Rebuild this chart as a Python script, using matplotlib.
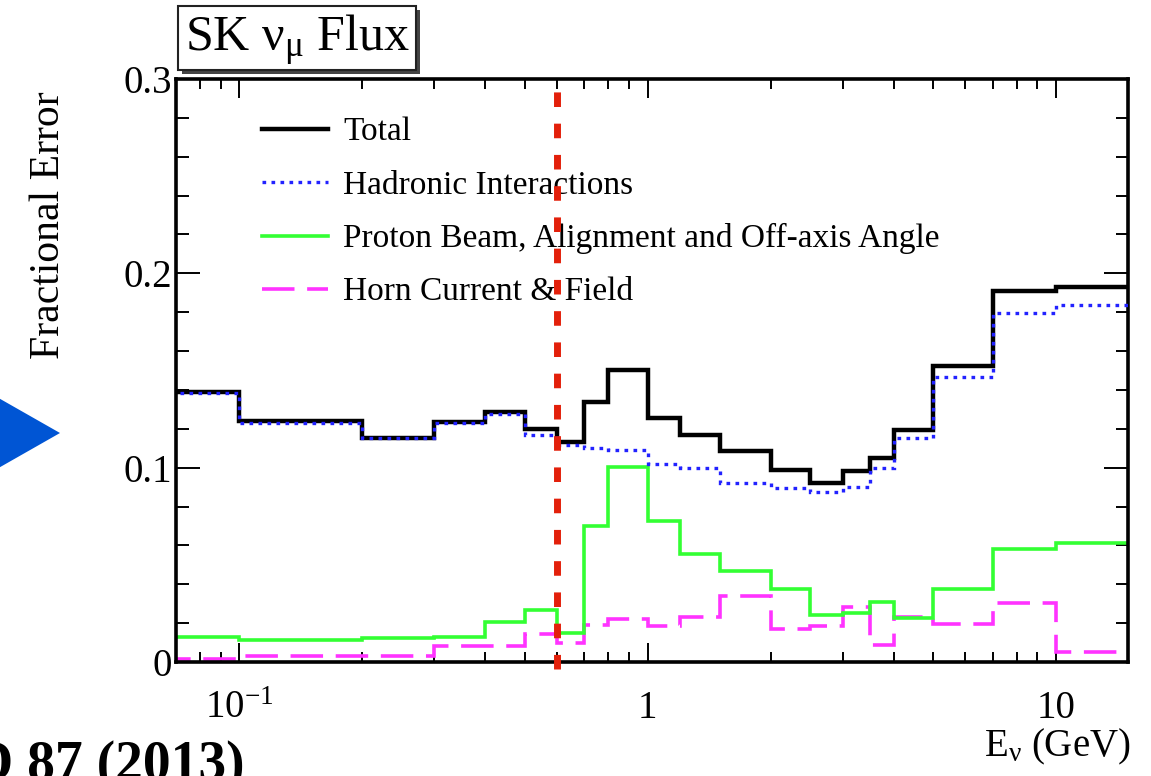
import numpy as np
import matplotlib
matplotlib.use("Agg")
import matplotlib.pyplot as plt
from matplotlib.patches import Rectangle, Polygon
from matplotlib.ticker import FixedLocator, MultipleLocator, NullFormatter

plt.rcParams['font.family'] = ['Liberation Serif', 'DejaVu Serif']
plt.rcParams['mathtext.fontset'] = 'custom'
plt.rcParams['mathtext.rm'] = 'Liberation Serif'
plt.rcParams['mathtext.it'] = 'Liberation Serif'
plt.rcParams['mathtext.bf'] = 'Liberation Serif:bold'

# SK numu flux bins (GeV); first bin really starts at 0, drawn from off-axis
edges = [0.05, 0.1, 0.2, 0.3, 0.4, 0.5, 0.6, 0.7, 0.8, 1.0, 1.2, 1.5,
         2.0, 2.5, 3.0, 3.5, 4.0, 5.0, 7.0, 10.0, 30.0]

total = [0.139, 0.124, 0.1155, 0.1235, 0.1285, 0.120, 0.113, 0.134, 0.1505,
         0.1255, 0.1166, 0.1086, 0.0988, 0.0923, 0.0983, 0.1048, 0.1192,
         0.1523, 0.1909, 0.193]
hadronic = [0.1383, 0.1232, 0.1155, 0.1228, 0.1275, 0.1168, 0.1117, 0.110,
            0.1091, 0.1017, 0.100, 0.0919, 0.0897, 0.0876, 0.0902, 0.100,
            0.1151, 0.1468, 0.1794, 0.1835]
proton = [0.0129, 0.0115, 0.0125, 0.0129, 0.0206, 0.0266, 0.0149, 0.0698,
          0.1005, 0.0726, 0.0554, 0.0468, 0.0377, 0.024, 0.0254, 0.031,
          0.0228, 0.0374, 0.058, 0.061]
horn = [0.0015, 0.0029, 0.0029, 0.008, 0.008, 0.0146, 0.0098, 0.0189, 0.0223,
        0.0185, 0.0233, 0.034, 0.0172, 0.0185, 0.0283, 0.0086, 0.0232,
        0.0194, 0.0305, 0.0051]

labels = ['Total', 'Hadronic Interactions',
          'Proton Beam, Alignment and Off-axis Angle', 'Horn Current & Field']
cut_energy = 0.6

W, H = 1151, 776
def fx(px):
    return px / W
def fy(py):
    return 1 - py / H

fig = plt.figure(figsize=(W / 100, H / 100), dpi=100)
ax = fig.add_axes([fx(176), fy(662), fx(1128) - fx(176), fy(79) - fy(662)])

ax.stairs(horn, edges, color='#ff33ff', lw=2.6, linestyle=(0, (9, 3.5)),
          label=labels[3], zorder=2)
ax.stairs(proton, edges, color='#33ff33', lw=2.6, label=labels[2], zorder=2)
ax.stairs(total, edges, color='black', lw=3.2, label=labels[0], zorder=3)
ax.stairs(hadronic, edges, color='#2222ff', lw=2.4, linestyle=(0, (1.1, 1.6)),
          label=labels[1], zorder=4)

ax.axvline(cut_energy, ymin=-0.012, ymax=0.995, color='#e3200b', lw=5,
           linestyle=(0, (2.1, 2.4)), zorder=6, clip_on=False)

ax.set_xscale('log')
ax.set_xlim(0.07, 15)
ax.set_ylim(0, 0.3)

ax.xaxis.set_major_locator(FixedLocator([0.1, 1, 10]))
ax.set_xticklabels([r'$10^{-1}$', '1', '10'])
minors = [0.08, 0.09] + [k * 0.1 for k in range(2, 10)] + list(range(2, 10))
ax.xaxis.set_minor_locator(FixedLocator(minors))
ax.xaxis.set_minor_formatter(NullFormatter())
ax.yaxis.set_major_locator(FixedLocator([0, 0.1, 0.2, 0.3]))
ax.set_yticklabels(['0', '0.1', '0.2', '0.3'])
ax.yaxis.set_minor_locator(MultipleLocator(0.02))

ax.tick_params(axis='both', which='both', direction='in', top=True,
               right=True, width=1.4, labelsize=28)
ax.tick_params(axis='x', which='major', length=14, pad=20)
ax.tick_params(axis='x', which='minor', length=7)
ax.tick_params(axis='y', which='major', length=17, pad=3)
ax.tick_params(axis='y', which='minor', length=9)
for s in ax.spines.values():
    s.set_linewidth(2.6)

ax.set_ylabel('Fractional Error', fontsize=30)
ax.yaxis.set_label_coords(-0.113, 0.75)
ax.set_xlabel(r'E$_{\nu}$ (GeV)', fontsize=28, ha='right')
ax.xaxis.set_label_coords(1.003, -0.112)

handles, labs = ax.get_legend_handles_labels()
order = [labs.index(l) for l in labels]
ax.legend([handles[i] for i in order], [labs[i] for i in order],
          loc='upper left', bbox_to_anchor=(0.09, 0.935), frameon=False,
          fontsize=24, handlelength=2.0, handletextpad=0.45,
          labelspacing=0.68, borderpad=0, borderaxespad=0)

# title box with shadow
fig.patches.append(Rectangle((fx(182), fy(74)), fx(416) - fx(178),
                             fy(6) - fy(70), transform=fig.transFigure,
                             facecolor='#444444', edgecolor='none'))
fig.patches.append(Rectangle((fx(178), fy(70)), fx(416) - fx(178),
                             fy(6) - fy(70), transform=fig.transFigure,
                             facecolor='white', edgecolor='#222222', lw=1.5))
fig.text(fx(297), fy(40), r'SK $\nu_{\mu}$ Flux', fontsize=36,
         ha='center', va='center')

# blue arrow head on the left
fig.patches.append(Polygon([(fx(-5), fy(396)), (fx(60), fy(433)),
                            (fx(-5), fy(470))], closed=True,
                           transform=fig.transFigure, facecolor='#0055d4',
                           edgecolor='none'))

fig.text(fx(245), fy(780), 'PRD 87 (2013)', fontsize=40, fontweight='bold',
         ha='right', va='baseline')

fig.savefig('out.png', dpi=100)
